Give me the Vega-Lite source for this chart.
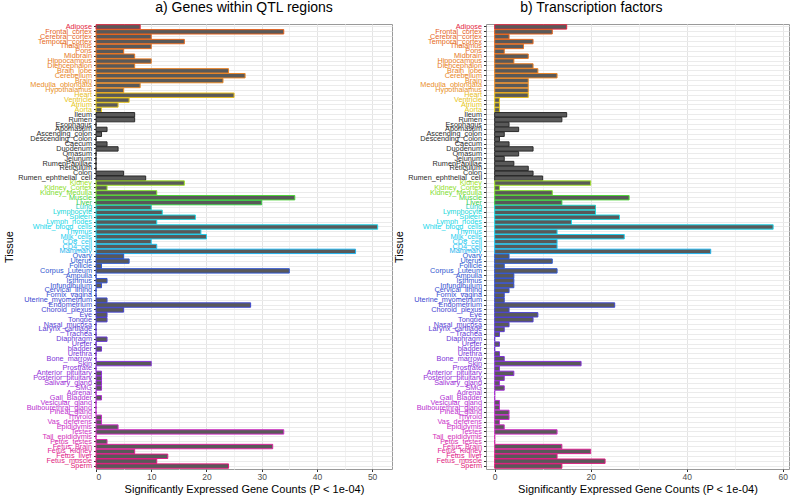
{
  "$schema": "https://vega.github.io/schema/vega-lite/v6.json",
  "padding": {"left": 3, "top": 0, "right": 0, "bottom": 0},
  "spacing": 0,
  "datasets": {
    "tissues": [
      {"Tissue": "Adipose", "QTL": 8, "TF": 15},
      {"Tissue": "Frontal_cortex", "QTL": 34, "TF": 12},
      {"Tissue": "Cerebral_cortex", "QTL": 10, "TF": 3},
      {"Tissue": "Temporal_cortex", "QTL": 16, "TF": 8},
      {"Tissue": "Thalamus", "QTL": 10, "TF": 6},
      {"Tissue": "Pons", "QTL": 5, "TF": 2},
      {"Tissue": "Midbrain", "QTL": 7, "TF": 7},
      {"Tissue": "Hippocampus", "QTL": 10, "TF": 4},
      {"Tissue": "Diencephalon", "QTL": 7, "TF": 8},
      {"Tissue": "Brain_lobe", "QTL": 24, "TF": 9},
      {"Tissue": "Cerebellum", "QTL": 27, "TF": 13},
      {"Tissue": "Brain", "QTL": 23, "TF": 7},
      {"Tissue": "Medulla_oblongata", "QTL": 8, "TF": 7},
      {"Tissue": "Hypothalamus", "QTL": 5, "TF": 7},
      {"Tissue": "Heart", "QTL": 25, "TF": 7},
      {"Tissue": "Ventricle", "QTL": 6, "TF": 1},
      {"Tissue": "Atrium", "QTL": 4, "TF": 1},
      {"Tissue": "Aorta", "QTL": 1, "TF": 1},
      {"Tissue": "Ileum", "QTL": 7, "TF": 15},
      {"Tissue": "Rumen", "QTL": 7, "TF": 14},
      {"Tissue": "Esophagus", "QTL": 0, "TF": 3},
      {"Tissue": "Abomasum", "QTL": 2, "TF": 5},
      {"Tissue": "Ascending_colon", "QTL": 1, "TF": 2},
      {"Tissue": "Descending_Colon", "QTL": 0, "TF": 1},
      {"Tissue": "Caecum", "QTL": 2, "TF": 3},
      {"Tissue": "Duodenum", "QTL": 4, "TF": 8},
      {"Tissue": "Omasum", "QTL": 0, "TF": 5},
      {"Tissue": "Jejunum", "QTL": 0, "TF": 2},
      {"Tissue": "RumenPapillae", "QTL": 0, "TF": 4},
      {"Tissue": "Reticulum", "QTL": 0, "TF": 7},
      {"Tissue": "Colon", "QTL": 5, "TF": 8},
      {"Tissue": "Rumen_ephthelial_cell", "QTL": 9, "TF": 10},
      {"Tissue": "Kidney", "QTL": 16, "TF": 20},
      {"Tissue": "Kidney_Cortex", "QTL": 2, "TF": 1},
      {"Tissue": "Kidney_Medulla", "QTL": 11, "TF": 12},
      {"Tissue": "Muscle", "QTL": 36, "TF": 28},
      {"Tissue": "Liver", "QTL": 30, "TF": 14},
      {"Tissue": "Lung", "QTL": 10, "TF": 21},
      {"Tissue": "Lymphocyte", "QTL": 12, "TF": 21},
      {"Tissue": "Spleen", "QTL": 18, "TF": 26},
      {"Tissue": "Lymph_nodes", "QTL": 11, "TF": 16},
      {"Tissue": "White_blood_cells", "QTL": 51, "TF": 58},
      {"Tissue": "Thymus", "QTL": 19, "TF": 13},
      {"Tissue": "Milk_cells", "QTL": 20, "TF": 27},
      {"Tissue": "CD8_cell", "QTL": 10, "TF": 13},
      {"Tissue": "CD4_cell", "QTL": 11, "TF": 13},
      {"Tissue": "Mammary", "QTL": 47, "TF": 45},
      {"Tissue": "Ovary", "QTL": 5, "TF": 3},
      {"Tissue": "Uterus", "QTL": 6, "TF": 12},
      {"Tissue": "Follicle", "QTL": 1, "TF": 2},
      {"Tissue": "Corpus_Luteum", "QTL": 35, "TF": 13},
      {"Tissue": "Ampulla", "QTL": 0, "TF": 4},
      {"Tissue": "Isthmus", "QTL": 2, "TF": 4},
      {"Tissue": "Infundibulum", "QTL": 1, "TF": 4},
      {"Tissue": "Cervical_lining", "QTL": 0, "TF": 3},
      {"Tissue": "Fornix_vagina", "QTL": 0, "TF": 2},
      {"Tissue": "Uterine_myometrium", "QTL": 2, "TF": 2},
      {"Tissue": "Endometrium", "QTL": 28, "TF": 25},
      {"Tissue": "Choroid_plexus", "QTL": 5, "TF": 3},
      {"Tissue": "Eye", "QTL": 2, "TF": 9},
      {"Tissue": "Tongue", "QTL": 2, "TF": 8},
      {"Tissue": "Nasal_mucosa", "QTL": 0, "TF": 3},
      {"Tissue": "Larynx_cartilage", "QTL": 0, "TF": 2},
      {"Tissue": "Trachea", "QTL": 0, "TF": 1},
      {"Tissue": "Diaphragm", "QTL": 2, "TF": 0},
      {"Tissue": "Ureter", "QTL": 0, "TF": 1},
      {"Tissue": "bladder", "QTL": 1, "TF": 0},
      {"Tissue": "Urethra", "QTL": 0, "TF": 1},
      {"Tissue": "Bone_marrow", "QTL": 0, "TF": 2},
      {"Tissue": "Skin", "QTL": 10, "TF": 18},
      {"Tissue": "Prostrate", "QTL": 0, "TF": 1},
      {"Tissue": "Anterior_pituitary", "QTL": 1, "TF": 4},
      {"Tissue": "Posterior_pituitary", "QTL": 1, "TF": 2},
      {"Tissue": "Salivary_gland", "QTL": 1, "TF": 1},
      {"Tissue": "SMG", "QTL": 1, "TF": 2},
      {"Tissue": "Adrenal", "QTL": 0, "TF": 0},
      {"Tissue": "Gall_Bladder", "QTL": 1, "TF": 0},
      {"Tissue": "Vesicular_gland", "QTL": 0, "TF": 1},
      {"Tissue": "Bulbourethral_gland", "QTL": 0, "TF": 1},
      {"Tissue": "Pineal_gland", "QTL": 0, "TF": 3},
      {"Tissue": "Thyroid", "QTL": 1, "TF": 3},
      {"Tissue": "Vas_deferens", "QTL": 1, "TF": 1},
      {"Tissue": "Epididymis", "QTL": 4, "TF": 2},
      {"Tissue": "Testes", "QTL": 34, "TF": 13},
      {"Tissue": "Tail_epididymis", "QTL": 0, "TF": 0},
      {"Tissue": "Fetus_testes", "QTL": 2, "TF": 0},
      {"Tissue": "Fetus_Brain", "QTL": 32, "TF": 14},
      {"Tissue": "Fetus_Kidney", "QTL": 7, "TF": 20},
      {"Tissue": "Fetus_liver", "QTL": 13, "TF": 13},
      {"Tissue": "Fetus_muscle", "QTL": 11, "TF": 23},
      {"Tissue": "Sperm", "QTL": 24, "TF": 14}
    ]
  },
  "resolve": {"scale": {"stroke": "shared"}},
  "hconcat": [
    {
      "title": {"text": "a) Genes within QTL regions", "frame": "group", "anchor": "middle"},
      "width": 296,
      "height": 445,
      "data": {"name": "tissues"},
      "mark": {"type": "bar", "fill": "#595959", "strokeWidth": 1},
      "encoding": {
        "y": {
          "field": "Tissue", "type": "nominal", "sort": null,
          "scale": {"paddingInner": 0.1, "paddingOuter": 0.15},
          "axis": {"title": "Tissue", "labelFontSize": 7.3, "labelOverlap": false, "bandPosition": 0.5, "labelColor": {"expr": "scale('stroke', datum.value)"}, "labelPadding": 2}
        },
        "x": {
          "field": "QTL", "type": "quantitative",
          "scale": {"domain": [0, 53.6], "nice": false},
          "axis": {"title": "Significantly Expressed Gene Counts (P < 1e-04)", "values": [0, 5, 10, 15, 20, 25, 30, 35, 40, 45, 50], "labelExpr": "datum.value % 10 === 0 ? datum.label : ''", "tickColor": {"expr": "datum.value % 10 === 0 ? '#333333' : 'transparent'"}, "gridColor": {"expr": "datum.value % 10 === 0 ? '#E4E4E4' : '#F2F2F2'"}}
        },
        "stroke": {
          "field": "Tissue", "type": "nominal", "legend": null,
          "scale": {
            "domain": ["Adipose","Frontal_cortex","Cerebral_cortex","Temporal_cortex","Thalamus","Pons","Midbrain","Hippocampus","Diencephalon","Brain_lobe","Cerebellum","Brain","Medulla_oblongata","Hypothalamus","Heart","Ventricle","Atrium","Aorta","Ileum","Rumen","Esophagus","Abomasum","Ascending_colon","Descending_Colon","Caecum","Duodenum","Omasum","Jejunum","RumenPapillae","Reticulum","Colon","Rumen_ephthelial_cell","Kidney","Kidney_Cortex","Kidney_Medulla","Muscle","Liver","Lung","Lymphocyte","Spleen","Lymph_nodes","White_blood_cells","Thymus","Milk_cells","CD8_cell","CD4_cell","Mammary","Ovary","Uterus","Follicle","Corpus_Luteum","Ampulla","Isthmus","Infundibulum","Cervical_lining","Fornix_vagina","Uterine_myometrium","Endometrium","Choroid_plexus","Eye","Tongue","Nasal_mucosa","Larynx_cartilage","Trachea","Diaphragm","Ureter","bladder","Urethra","Bone_marrow","Skin","Prostrate","Anterior_pituitary","Posterior_pituitary","Salivary_gland","SMG","Adrenal","Gall_Bladder","Vesicular_gland","Bulbourethral_gland","Pineal_gland","Thyroid","Vas_deferens","Epididymis","Testes","Tail_epididymis","Fetus_testes","Fetus_Brain","Fetus_Kidney","Fetus_liver","Fetus_muscle","Sperm"],
            "range": ["#E3263F","#E5621E","#E5661F","#E66A20","#E66E21","#E67222","#E77623","#E77A24","#E77E25","#E88226","#E88627","#E88A28","#E98E29","#E9922A","#E8BE1C","#E8C41E","#E6C820","#E4CC22","#2B2B2B","#2B2B2B","#2B2B2B","#2B2B2B","#2B2B2B","#2B2B2B","#2B2B2B","#2B2B2B","#2B2B2B","#2B2B2B","#2B2B2B","#2B2B2B","#2B2B2B","#2B2B2B","#A2E32A","#92E02C","#80DC30","#4FD43A","#3ACC46","#22CFC4","#22D6D8","#22D8E2","#22D8E6","#22D6EA","#22D2EC","#22CEEE","#22CAF0","#22C4F0","#22B4EE","#2A5CD0","#2C5AD0","#2E58D0","#3056D0","#3254D0","#3452D0","#3650D0","#384ED0","#3A4CD0","#3C4AD0","#3E48D0","#4444D2","#4A42D2","#5040D4","#563ED4","#5C3CD4","#623AD6","#6838D6","#6E36D6","#7434D8","#7A34D8","#8032D8","#8632D8","#8A30D8","#9030D8","#9630D6","#9C30D6","#A230D4","#A830D4","#AE30D2","#B430D2","#BA30D0","#C030CE","#C630CC","#CA30CA","#CE30C8","#D030C4","#D430B8","#D82CAC","#DC28A0","#DE2494","#E02088","#E01C80","#E01878"]
          }
        }
      }
    },
    {
      "title": {"text": "b) Transcription factors", "frame": "bounds", "anchor": "middle"},
      "width": 303,
      "height": 445,
      "data": {"name": "tissues"},
      "mark": {"type": "bar", "fill": "#595959", "strokeWidth": 1},
      "encoding": {
        "y": {
          "field": "Tissue", "type": "nominal", "sort": null,
          "scale": {"paddingInner": 0.1, "paddingOuter": 0.15},
          "axis": {"title": "Tissue", "labelFontSize": 7.3, "labelOverlap": false, "bandPosition": 0.5, "labelColor": {"expr": "scale('stroke', datum.value)"}, "labelPadding": 2}
        },
        "x": {
          "field": "TF", "type": "quantitative",
          "scale": {"domain": [-1.8, 61.3], "nice": false, "zero": false},
          "axis": {"title": "Significantly Expressed Gene Counts (P < 1e-04)", "values": [0, 10, 20, 30, 40, 50, 60], "labelExpr": "datum.value % 20 === 0 ? datum.label : ''", "tickColor": {"expr": "datum.value % 20 === 0 ? '#333333' : 'transparent'"}, "gridColor": {"expr": "datum.value % 20 === 0 ? '#E4E4E4' : '#F2F2F2'"}}
        },
        "stroke": {"field": "Tissue", "type": "nominal", "legend": null}
      }
    }
  ],
  "config": {
    "font": "Liberation Sans",
    "view": {"stroke": "#9A9A9A"},
    "axis": {"grid": true, "gridColor": "#EBEBEB", "domain": false, "tickColor": "#333333", "tickSize": 2.5, "labelColor": "#4D4D4D", "labelFontSize": 8.5, "titleFontWeight": "normal", "titleColor": "#000000", "titleFontSize": 11},
    "axisX": {"titlePadding": 2, "labelPadding": 1},
    "axisY": {"titlePadding": 3},
    "title": {"fontSize": 14, "fontWeight": "normal", "color": "#000000", "offset": 7}
  }
}
